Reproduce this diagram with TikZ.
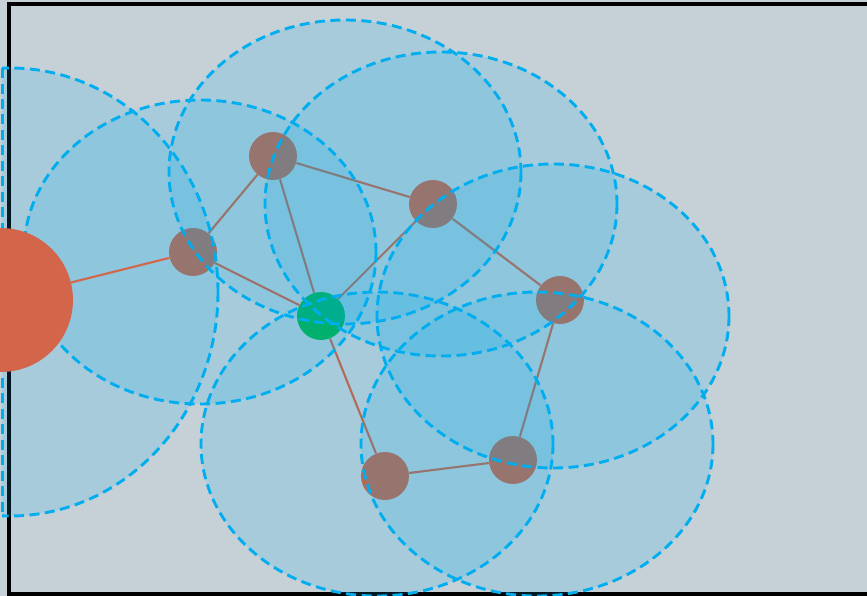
\documentclass[tikz,border=0pt]{standalone}
\usepackage{tikz}
\usetikzlibrary{positioning}

\definecolor{panelgray}{RGB}{197,209,215}
\definecolor{zoneblue}{RGB}{0,174,239}
\definecolor{hostred}{RGB}{211,101,74}
\definecolor{peerred}{RGB}{210,95,61}
\definecolor{sinkgreen}{RGB}{0,178,60}

\begin{document}
\begin{tikzpicture}[x=0.02cm, y=-0.02cm,
    zone/.style={draw=zoneblue, dash pattern=on 0.2cm off 0.11cm, line width=0.058cm, fill=zoneblue, fill opacity=0.15},
    peer/.style={circle, fill=peerred, minimum size=0.96cm, inner sep=0pt},
    link/.style={draw=peerred, line width=0.042cm}]
  \useasboundingbox (0,0) rectangle (867,596);
  \fill[panelgray] (0,0) rectangle (867,596);
  \draw[line width=0.08cm] (867,4) -- (9,4) -- (9,594) -- (867,594);

  % sensor nodes, drawn below the ranges
  \node[peer] (a) at (193,252) {};
  \node[peer] (b) at (273,156) {};
  \node[peer] (c) at (433,204) {};
  \node[peer] (d) at (560,300) {};
  \node[peer, fill=sinkgreen] (e) at (321,316) {};
  \node[peer] (f) at (385,476) {};
  \node[peer] (g) at (513,460) {};

  \draw[link] (a) -- (b);
  \draw[link] (a) -- (e);
  \draw[link] (b) -- (e);
  \draw[link] (b) -- (c);
  \draw[link] (c) -- (e);
  \draw[link] (c) -- (d);
  \draw[link] (d) -- (g);
  \draw[link] (g) -- (f);
  \draw[link] (f) -- (e);

  % radio ranges
  \begin{scope}
    \clip (2,0) rectangle (867,596);
    \path[zone] (10,292) ellipse [x radius=208, y radius=224];
  \end{scope}
  \draw[zone, fill=none] (2.5,68) -- (2.5,516);
  \path[zone] (200,252) ellipse [x radius=176, y radius=152];
  \path[zone] (345,172) ellipse [x radius=176, y radius=152];
  \path[zone] (441,204) ellipse [x radius=176, y radius=152];
  \path[zone] (553,316) ellipse [x radius=176, y radius=152];
  \path[zone] (377,444) ellipse [x radius=176, y radius=152];
  \path[zone] (537,444) ellipse [x radius=176, y radius=152];

  % base station on top
  \node[circle, fill=hostred, minimum size=2.88cm, inner sep=0pt] (base) at (1,300) {};
  \draw[link, draw=hostred] (base) -- (a);
\end{tikzpicture}
\end{document}
